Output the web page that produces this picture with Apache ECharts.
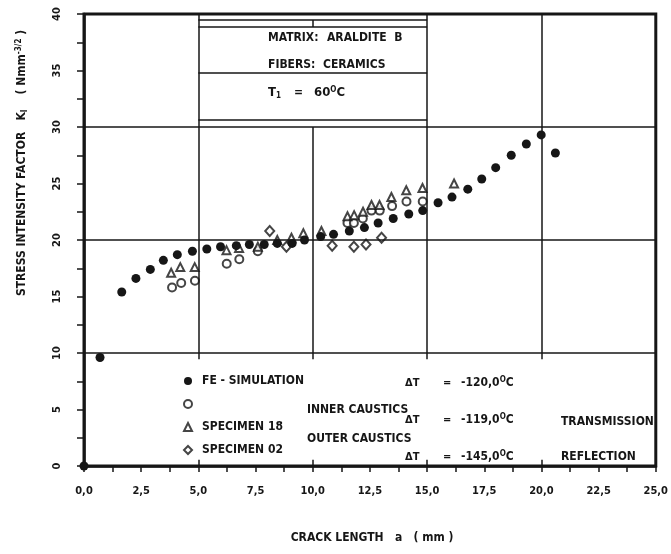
<!DOCTYPE html>
<html>
<head>
<meta charset="utf-8">
<script src="https://cdn.jsdelivr.net/npm/echarts@6/dist/echarts.min.js"></script>
<style>html,body{margin:0;padding:0;background:#fff}#c{width:671px;height:554px}</style>
</head>
<body>
<div id="c"></div>
<script>
// ---- data (crack length a in mm, stress intensity factor K_I) ----
var feA   = [0, 0.7, 1.65, 2.27, 2.9, 3.47, 4.08, 4.74, 5.37, 5.97, 6.66, 7.23, 7.88, 8.45, 9.1, 9.64, 10.35, 10.91, 11.6, 12.26, 12.86, 13.52, 14.2, 14.81, 15.48, 16.09, 16.78, 17.39, 18.0, 18.68, 19.34, 19.99, 20.61];
var feK   = [0, 9.6, 15.4, 16.6, 17.4, 18.2, 18.7, 19.0, 19.2, 19.4, 19.5, 19.6, 19.6, 19.7, 19.7, 20.0, 20.3, 20.5, 20.8, 21.1, 21.5, 21.9, 22.3, 22.6, 23.3, 23.8, 24.5, 25.4, 26.4, 27.5, 28.5, 29.3, 27.7];
var s18InA = [3.85, 4.25, 4.85, 6.24, 6.79, 7.6, 11.52, 11.8, 12.19, 12.57, 12.93, 13.47, 14.1, 14.81];
var s18InK = [15.8, 16.2, 16.4, 17.9, 18.3, 19.0, 21.5, 21.5, 21.9, 22.6, 22.6, 23.0, 23.4, 23.4];
var s18OutA = [3.81, 4.21, 4.84, 6.23, 6.78, 7.6, 8.45, 9.07, 9.59, 10.38, 11.52, 11.81, 12.2, 12.57, 12.92, 13.44, 14.09, 14.8, 16.18];
var s18OutK = [17.1, 17.6, 17.6, 19.1, 19.3, 19.4, 20.0, 20.2, 20.6, 20.8, 22.1, 22.2, 22.5, 23.1, 23.1, 23.8, 24.4, 24.6, 25.0];
var s02A  = [8.12, 8.85, 10.85, 11.8, 12.33, 13.01];
var s02K  = [20.8, 19.4, 19.5, 19.4, 19.6, 20.2];

var seriesNames = ['FE - SIMULATION', 'SPECIMEN 18 INNER', 'SPECIMEN 18', 'SPECIMEN 02'];
var legendLabels = {'FE - SIMULATION':'FE - SIMULATION', 'SPECIMEN 18 INNER':' ', 'SPECIMEN 18':'SPECIMEN 18', 'SPECIMEN 02':'SPECIMEN 02'};
var xTickLabels = ['0,0','2,5','5,0','7,5','10,0','12,5','15,0','17,5','20,0','22,5','25,0'];
var yTickLabels = ['0','5','10','15','20','25','30','35','40'];

function pairs(a, k){ return a.map(function(v,i){ return [v, k[i]]; }); }

var FONT = "'Liberation Sans Narrow','DejaVu Sans Condensed','Arial Narrow','Liberation Sans',sans-serif";
var INK = '#161616';

function seg(x1,y1,x2,y2){ return [{coord:[x1,y1]},{coord:[x2,y2]}]; }
var frameLines = [
  seg(0,10,25,10), seg(0,20,25,20), seg(0,30,25,30),
  seg(5,40,5,9.45), seg(10,30,10,9.45), seg(15,40,15,9.45), seg(20,40,20,9.45),
  seg(10,39.47,10,38.85),
  seg(5,39.47,15,39.47), seg(5,38.85,15,38.85), seg(5,34.78,15,34.78), seg(5,30.62,15,30.62),
  seg(5,0,5,0.55), seg(10,0,10,0.55), seg(15,0,15,0.55), seg(20,0,20,0.55)
];

function txt(text, x, y, size, extra){
  var o = {type:'text', x:x, y:y, style:{text:text, font:'bold '+(size||12)+'px '+FONT, fill:INK, verticalAlign:'middle', align:'left'}};
  if (extra) for (var k in extra) o.style[k] = extra[k];
  return o;
}
var supRich = {
  sup:{fontSize:8, fontWeight:'bold', fontFamily:FONT, fill:INK, verticalAlign:'top', padding:[0,0,6,0]},
  sub:{fontSize:8, fontWeight:'bold', fontFamily:FONT, fill:INK, padding:[6,0,0,0]}
};

var chart = echarts.init(document.getElementById('c'), null, {renderer:'canvas'});
chart.setOption({
  animation:false,
  backgroundColor:'#fff',
  grid:{left:84, right:11, top:14, bottom:88, show:true, borderColor:INK, borderWidth:3, backgroundColor:'transparent'},
  xAxis:{type:'value', min:0, max:25, interval:1.25, offset:11,
    axisLine:{show:true, lineStyle:{color:INK, width:2.5}},
    axisTick:{show:true, inside:false, length:6, lineStyle:{color:INK, width:1.5}},
    axisLabel:{margin:9, color:INK, fontFamily:FONT, fontWeight:'bold', fontSize:11,
      formatter:function(v){ var r = v/2.5; if (Math.abs(r-Math.round(r))>1e-6) return ''; return xTickLabels[Math.round(r)] || ''; }},
    splitLine:{show:false}},
  yAxis:{type:'value', min:0, max:40, interval:2.5, offset:7,
    axisLine:{show:true, lineStyle:{color:INK, width:2.5}},
    axisTick:{show:true, inside:false, length:7, lineStyle:{color:INK, width:1.5}},
    axisLabel:{rotate:90, margin:14, color:INK, fontFamily:FONT, fontWeight:'bold', fontSize:11,
      formatter:function(v){ var r = v/5; if (Math.abs(r-Math.round(r))>1e-6) return ''; return yTickLabels[Math.round(r)] || ''; }},
    splitLine:{show:false}},
  legend:{orient:'vertical', left:178, top:370, itemWidth:8, itemHeight:8, itemGap:11,
    data:seriesNames, formatter:function(n){ return legendLabels[n]; },
    textStyle:{fontFamily:FONT, fontWeight:'bold', fontSize:12, color:INK, padding:[0,0,0,5]},
    selectedMode:false},
  series:[
    {name:seriesNames[0], type:'scatter', data:pairs(feA,feK), symbol:'circle', symbolSize:9,
      itemStyle:{color:INK, opacity:1}, z:5,
      markLine:{silent:true, symbol:['none','none'], label:{show:false},
        lineStyle:{color:INK, width:1.5, type:'solid'}, data:frameLines}},
    {name:seriesNames[1], type:'scatter', data:pairs(s18InA,s18InK), symbol:'emptyCircle', symbolSize:8,
      itemStyle:{color:INK, borderColor:INK, borderWidth:1.4}, z:4},
    {name:seriesNames[2], type:'scatter', data:pairs(s18OutA,s18OutK), symbol:'emptyTriangle', symbolSize:8,
      itemStyle:{color:INK, borderColor:INK, borderWidth:1.4}, z:4},
    {name:seriesNames[3], type:'scatter', data:pairs(s02A,s02K), symbol:'emptyDiamond', symbolSize:[9,10],
      itemStyle:{color:INK, borderColor:INK, borderWidth:1.4}, z:4}
  ],
  graphic:[
    txt('MATRIX:', 268, 38, 12), txt('ARALDITE  B', 327, 38, 12),
    txt('FIBERS:', 268, 65, 12), txt('CERAMICS', 323, 65, 12),
    {type:'text', x:268, y:93, style:{text:'T{sub|1}', font:'bold 13px '+FONT, fill:INK, verticalAlign:'middle', rich:supRich}},
    txt('=', 294, 93, 12),
    {type:'text', x:314, y:93, style:{text:'60{sup|O}C', font:'bold 13px '+FONT, fill:INK, verticalAlign:'middle', rich:supRich}},
    txt('INNER CAUSTICS', 307, 410, 12), txt('OUTER CAUSTICS', 307, 439, 12),
    txt('ΔT', 405, 383, 11), txt('=', 443, 383, 11),
    {type:'text', x:461, y:383, style:{text:'-120,0{sup|O}C', font:'bold 12px '+FONT, fill:INK, verticalAlign:'middle', rich:supRich}},
    txt('ΔT', 405, 420, 11), txt('=', 443, 420, 11),
    {type:'text', x:461, y:420, style:{text:'-119,0{sup|O}C', font:'bold 12px '+FONT, fill:INK, verticalAlign:'middle', rich:supRich}},
    txt('ΔT', 405, 457, 11), txt('=', 443, 457, 11),
    {type:'text', x:461, y:457, style:{text:'-145,0{sup|O}C', font:'bold 12px '+FONT, fill:INK, verticalAlign:'middle', rich:supRich}},
    txt('TRANSMISSION', 561, 422, 12), txt('REFLECTION', 561, 457, 12),
    txt('CRACK LENGTH   a   ( mm )', 372, 538, 12, {align:'center'}),
    {type:'text', x:22, y:163, rotation:Math.PI/2,
      style:{text:'STRESS INTENSITY FACTOR   K{sub|I}    ( Nmm{sup|-3/2} )', font:'bold 12px '+FONT, fill:INK,
        align:'center', verticalAlign:'middle', rich:supRich}}
  ]
});
</script>
</body>
</html>
